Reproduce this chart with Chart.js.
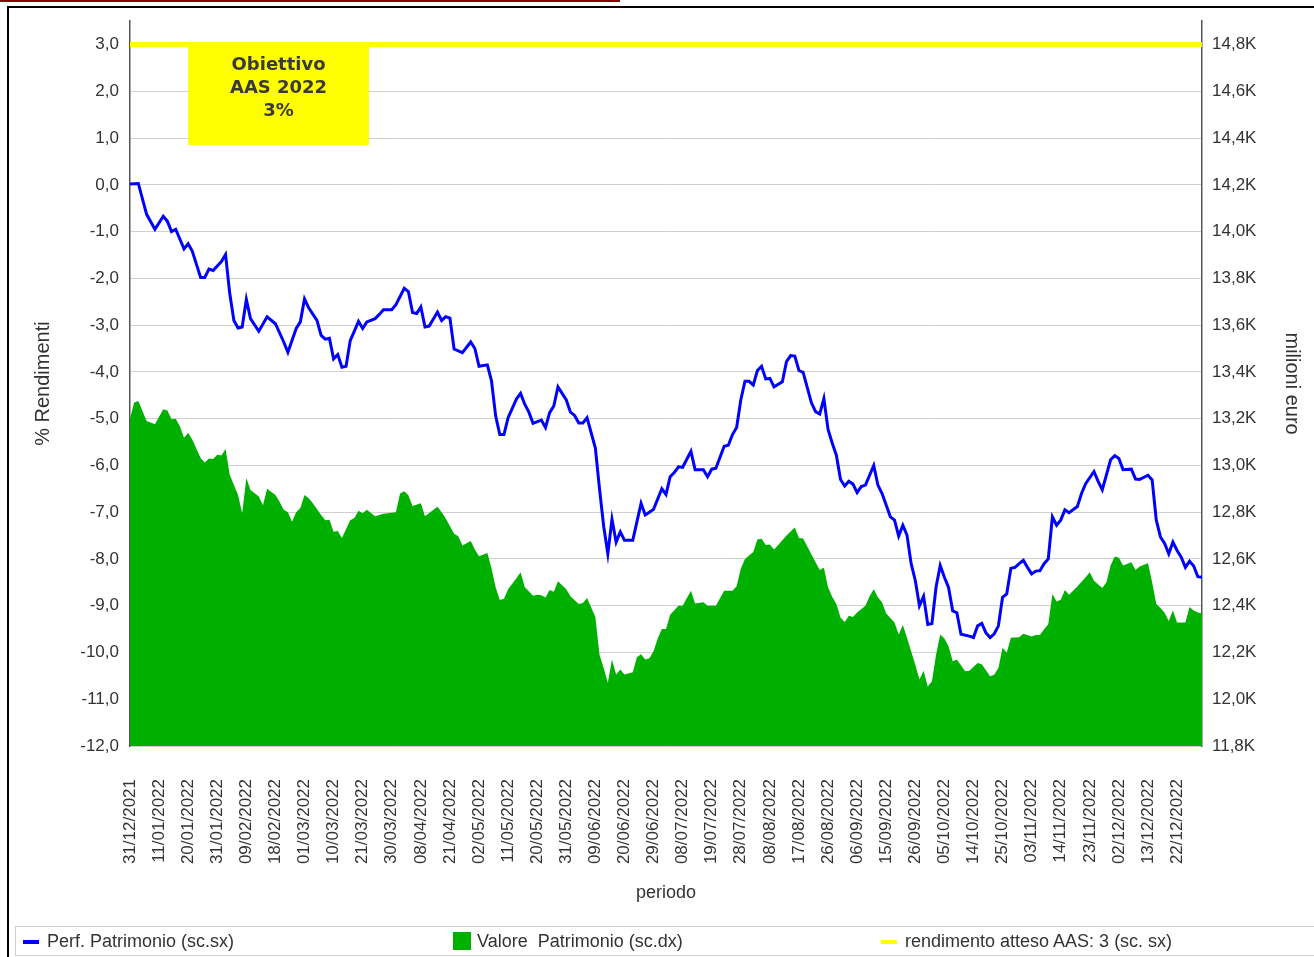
<!DOCTYPE html>
<html>
<head>
<meta charset="utf-8">
<script src="https://cdn.jsdelivr.net/npm/chart.js@4.4.1/dist/chart.umd.min.js"></script>
<style>
    body { margin: 0; background: #fff; font-family: 'Liberation Sans', Arial, sans-serif; }
    #wrap { position: relative; width: 1314px; height: 957px; overflow: hidden; }
    #redline { position: absolute; left: 0; top: 0; width: 620px; height: 2px; background: #8b0000; }
    #frame { position: absolute; left: 7px; top: 6px; width: 1320px; height: 960px;
             border-top: 2px solid #000; border-left: 2px solid #000; }
    canvas { position: absolute; left: 0; top: 0; }
    #legend { position: absolute; left: 15px; top: 926px; width: 1320px; height: 28px;
              border: 1px solid #d0d0d0; font-size: 18px; color: #333; }
    .item { position: absolute; top: 4px; white-space: pre; }
    .dash { position: absolute; width: 16px; height: 4px; top: 13px; }
    .box { position: absolute; width: 18px; height: 18px; top: 5px; }
</style>
</head>
<body>
<div id="wrap">
    <div id="redline"></div>
    <div id="frame"></div>
    <canvas id="chart" width="1314" height="957"></canvas>
    <div id="legend">
        <div class="dash" style="left:7px;background:#0000ff"></div>
        <div class="item" style="left:31px">Perf. Patrimonio (sc.sx)</div>
        <div class="box" style="left:437px;background:#00b000"></div>
        <div class="item" style="left:461px">Valore  Patrimonio (sc.dx)</div>
        <div class="dash" style="left:865px;background:#ffff00"></div>
        <div class="item" style="left:889px">rendimento atteso AAS: 3 (sc. sx)</div>
    </div>
</div>
<script>
// Etichette asse X (una ogni 7 giorni lavorativi)
const dateLabels = [
    '31/12/2021', '11/01/2022', '20/01/2022', '31/01/2022', '09/02/2022', '18/02/2022',
    '01/03/2022', '10/03/2022', '21/03/2022', '30/03/2022', '08/04/2022', '21/04/2022',
    '02/05/2022', '11/05/2022', '20/05/2022', '31/05/2022', '09/06/2022', '20/06/2022',
    '29/06/2022', '08/07/2022', '19/07/2022', '28/07/2022', '08/08/2022', '17/08/2022',
    '26/08/2022', '06/09/2022', '15/09/2022', '26/09/2022', '05/10/2022', '14/10/2022',
    '25/10/2022', '03/11/2022', '14/11/2022', '23/11/2022', '02/12/2022', '13/12/2022',
    '22/12/2022'
];
const labelStep = 7;
const lastDay = 258;

// Perf. Patrimonio (%), [giorno lavorativo, valore]
const perfPoints = [
    [0,0.02],[2,0.03],[4,-0.63],[6,-0.95],[8,-0.67],[9,-0.78],[10,-1.0],[11,-0.95],[13,-1.37],[14,-1.26],
    [15,-1.42],[17,-1.98],[18,-1.98],[19,-1.8],[20,-1.83],[22,-1.64],[23,-1.49],[24,-2.32],[25,-2.9],[26,-3.06],
    [27,-3.04],[28,-2.45],[29,-2.86],[31,-3.13],[33,-2.82],[35,-2.97],[37,-3.36],[38,-3.58],[40,-3.07],[41,-2.93],
    [42,-2.44],[43,-2.63],[45,-2.9],[46,-3.22],[47,-3.3],[48,-3.28],[49,-3.72],[50,-3.63],[51,-3.9],[52,-3.88],
    [53,-3.33],[54,-3.13],[55,-2.92],[56,-3.07],[57,-2.93],[59,-2.86],[60,-2.77],[61,-2.67],[63,-2.67],[64,-2.56],
    [66,-2.21],[67,-2.28],[68,-2.73],[69,-2.75],[70,-2.61],[71,-3.04],[72,-3.02],[74,-2.72],[75,-2.9],[76,-2.82],
    [77,-2.85],[78,-3.51],[80,-3.59],[82,-3.36],[83,-3.5],[84,-3.88],[86,-3.85],[87,-4.19],[88,-4.94],[89,-5.34],
    [90,-5.34],[91,-4.98],[93,-4.58],[94,-4.46],[95,-4.69],[96,-4.86],[97,-5.1],[99,-5.03],[100,-5.19],[101,-4.87],
    [102,-4.73],[103,-4.32],[105,-4.6],[106,-4.86],[107,-4.93],[108,-5.09],[109,-5.09],[110,-4.98],[112,-5.63],[113,-6.5],
    [114,-7.3],[115,-7.89],[116,-7.15],[117,-7.64],[118,-7.42],[119,-7.6],[121,-7.6],[123,-6.81],[124,-7.06],[125,-7.0],
    [126,-6.94],[128,-6.5],[129,-6.62],[130,-6.24],[131,-6.15],[132,-6.03],[133,-6.04],[135,-5.7],[136,-6.09],[138,-6.09],
    [139,-6.24],[140,-6.08],[141,-6.06],[143,-5.59],[144,-5.57],[145,-5.34],[146,-5.19],[147,-4.6],[148,-4.2],[149,-4.2],
    [150,-4.28],[151,-3.97],[152,-3.88],[153,-4.15],[154,-4.14],[155,-4.32],[157,-4.21],[158,-3.78],[159,-3.65],[160,-3.66],
    [161,-3.97],[162,-4.01],[164,-4.66],[165,-4.85],[166,-4.9],[167,-4.57],[168,-5.23],[169,-5.52],[170,-5.78],[171,-6.3],
    [172,-6.44],[173,-6.34],[174,-6.4],[175,-6.58],[176,-6.45],[177,-6.42],[179,-6.0],[180,-6.42],[181,-6.6],[183,-7.1],
    [184,-7.17],[185,-7.51],[186,-7.28],[187,-7.49],[188,-8.1],[189,-8.46],[190,-9.0],[191,-8.8],[192,-9.4],[193,-9.38],
    [194,-8.6],[195,-8.14],[196,-8.39],[197,-8.61],[198,-9.11],[199,-9.15],[200,-9.61],[202,-9.65],[203,-9.68],[204,-9.43],
    [205,-9.38],[206,-9.58],[207,-9.68],[208,-9.6],[209,-9.43],[210,-8.82],[211,-8.75],[212,-8.2],[213,-8.18],[214,-8.1],
    [215,-8.03],[216,-8.18],[217,-8.32],[218,-8.26],[219,-8.25],[220,-8.1],[221,-8.0],[222,-7.1],[223,-7.28],[224,-7.17],
    [225,-6.95],[226,-7.01],[228,-6.88],[229,-6.6],[230,-6.39],[232,-6.13],[233,-6.34],[234,-6.52],[235,-6.2],[236,-5.88],
    [237,-5.79],[238,-5.85],[239,-6.09],[241,-6.08],[242,-6.29],[243,-6.3],[245,-6.21],[246,-6.31],[247,-7.17],[248,-7.53],
    [249,-7.67],[250,-7.89],[251,-7.64],[252,-7.82],[253,-7.96],[254,-8.18],[255,-8.05],[256,-8.15],[257,-8.38],[258,-8.39]
];

// Valore Patrimonio (milioni di euro), [giorno lavorativo, valore]
const valorePoints = [
    [0,13200],[1,13269],[2,13276],[4,13190],[6,13176],[8,13240],[9,13235],[10,13197],[11,13200],[12,13168],
    [13,13118],[14,13140],[15,13110],[17,13032],[18,13013],[19,13030],[20,13028],[21,13046],[22,13042],[23,13070],
    [24,12960],[26,12874],[27,12795],[28,12946],[29,12895],[31,12867],[32,12830],[33,12900],[35,12874],[36,12845],
    [37,12810],[38,12800],[39,12759],[40,12800],[41,12818],[42,12874],[43,12860],[44,12838],[46,12788],[47,12766],
    [48,12768],[49,12716],[50,12720],[51,12690],[53,12766],[54,12775],[55,12806],[56,12795],[57,12810],[59,12783],
    [61,12793],[64,12800],[65,12880],[66,12890],[67,12872],[68,12826],[70,12838],[71,12783],[74,12823],[75,12800],
    [76,12773],[78,12708],[79,12697],[80,12658],[82,12677],[83,12640],[84,12612],[86,12625],[87,12560],[88,12479],
    [89,12424],[90,12430],[91,12470],[93,12517],[94,12543],[95,12480],[97,12443],[98,12447],[99,12445],[100,12435],
    [101,12467],[102,12460],[103,12505],[105,12470],[106,12440],[108,12407],[109,12412],[110,12433],[112,12352],[113,12190],
    [114,12134],[115,12070],[116,12170],[117,12106],[118,12127],[119,12106],[121,12115],[122,12180],[123,12192],[124,12170],
    [125,12175],[126,12205],[127,12260],[128,12300],[129,12300],[130,12361],[132,12400],[133,12400],[135,12464],[136,12410],
    [138,12415],[139,12400],[141,12400],[143,12464],[145,12464],[146,12483],[147,12558],[148,12600],[150,12630],[151,12683],
    [152,12686],[153,12660],[154,12662],[155,12640],[156,12660],[158,12700],[160,12734],[161,12690],[162,12688],[165,12586],
    [166,12553],[167,12562],[168,12479],[169,12438],[170,12407],[171,12350],[172,12330],[173,12357],[174,12352],[175,12371],
    [177,12400],[178,12440],[179,12470],[180,12436],[181,12414],[182,12367],[184,12328],[185,12277],[186,12318],[187,12263],
    [189,12148],[190,12084],[191,12122],[192,12055],[193,12077],[194,12190],[195,12277],[196,12260],[197,12227],[198,12163],
    [199,12170],[201,12120],[202,12122],[204,12155],[205,12150],[207,12098],[208,12105],[209,12134],[210,12220],[211,12199],
    [212,12263],[214,12265],[215,12280],[217,12268],[218,12275],[219,12275],[220,12299],[221,12321],[222,12450],[223,12418],
    [224,12425],[225,12467],[226,12447],[228,12482],[230,12522],[231,12543],[232,12507],[234,12476],[235,12500],[236,12572],
    [237,12611],[238,12605],[239,12572],[241,12586],[242,12553],[243,12568],[245,12582],[246,12500],[247,12407],[248,12390],
    [249,12370],[250,12335],[251,12380],[252,12328],[254,12328],[255,12395],[256,12380],[257,12371],[258,12367]
];

// Rendimento atteso AAS
const targetValue = 3;
const boxLines = ['Obiettivo', 'AAS 2022', '3%'];

const toXY = pts => pts.map(p => ({ x: p[0], y: p[1] }));
const fmt1 = v => v.toFixed(1).replace('.', ',');

Chart.defaults.font.family = "'Liberation Sans', Arial, sans-serif";
Chart.defaults.color = '#333';

// Riquadro giallo "Obiettivo"
const boxPlugin = {
    id: 'boxObiettivo',
    afterDatasetsDraw(chart) {
        const { ctx, scales: { x, y } } = chart;
        const left = x.getPixelForValue(14);
        const right = x.getPixelForValue(57.5);
        const top = y.getPixelForValue(3.05);
        const bottom = y.getPixelForValue(0.85);
        ctx.save();
        ctx.fillStyle = '#ffff00';
        ctx.fillRect(left, top, right - left, bottom - top);
        ctx.fillStyle = '#3a3a3a';
        ctx.font = "bold 18px 'DejaVu Sans', Verdana, sans-serif";
        ctx.textAlign = 'center';
        ctx.textBaseline = 'middle';
        boxLines.forEach((t, i) => ctx.fillText(t, (left + right) / 2, top + 23 + i * 23));
        ctx.restore();
    }
};

new Chart(document.getElementById('chart'), {
    type: 'line',
    data: {
        datasets: [
            {
                label: 'rendimento atteso AAS: 3 (sc. sx)',
                data: [{ x: 0, y: targetValue }, { x: lastDay, y: targetValue }],
                borderColor: '#ffff00',
                borderWidth: 5,
                yAxisID: 'y',
                order: 1
            },
            {
                label: 'Perf. Patrimonio (sc.sx)',
                data: toXY(perfPoints),
                borderColor: '#0000ff',
                borderWidth: 3,
                yAxisID: 'y',
                order: 2
            },
            {
                label: 'Valore  Patrimonio (sc.dx)',
                data: toXY(valorePoints),
                borderWidth: 0,
                backgroundColor: '#00b000',
                fill: 'start',
                yAxisID: 'y1',
                order: 3
            }
        ]
    },
    options: {
        responsive: false,
        animation: false,
        layout: { padding: { top: 21, left: 0, right: 0, bottom: 52 } },
        elements: { point: { radius: 0 }, line: { tension: 0 } },
        plugins: { legend: { display: false }, tooltip: { enabled: false } },
        scales: {
            x: {
                type: 'linear',
                min: 0,
                max: lastDay,
                grid: { display: false },
                border: { display: false },
                ticks: {
                    stepSize: labelStep,
                    autoSkip: false,
                    minRotation: 90,
                    maxRotation: 90,
                    padding: 25,
                    font: { size: 17 },
                    callback: v => (v % labelStep === 0 ? dateLabels[v / labelStep] : '')
                },
                title: { display: true, text: 'periodo', font: { size: 18 }, padding: { top: 0, bottom: 1 } },
                afterFit: s => { s.height = 159; }
            },
            y: {
                position: 'left',
                min: -12,
                max: 3.5,
                grid: { color: '#d0d0d0', lineWidth: 1, drawTicks: false },
                border: { color: '#555', width: 1.5 },
                ticks: {
                    stepSize: 0.5,
                    padding: 11,
                    font: { size: 17 },
                    callback: v => (Number.isInteger(v) ? fmt1(v) : '')
                },
                title: { display: true, text: '% Rendimenti', font: { size: 20 }, padding: { top: 31 } },
                afterFit: s => { s.width = 130; }
            },
            y1: {
                position: 'right',
                min: 11800,
                max: 14900,
                grid: { display: false, drawTicks: false },
                border: { color: '#555', width: 1.5 },
                ticks: {
                    stepSize: 100,
                    padding: 10,
                    font: { size: 17 },
                    callback: v => (v % 200 === 0 ? fmt1(v / 1000) + 'K' : '')
                },
                title: { display: true, text: 'milioni euro', font: { size: 20 }, padding: { top: 10 } },
                afterFit: s => { s.width = 112; }
            }
        }
    },
    plugins: [boxPlugin]
});
</script>
</body>
</html>
